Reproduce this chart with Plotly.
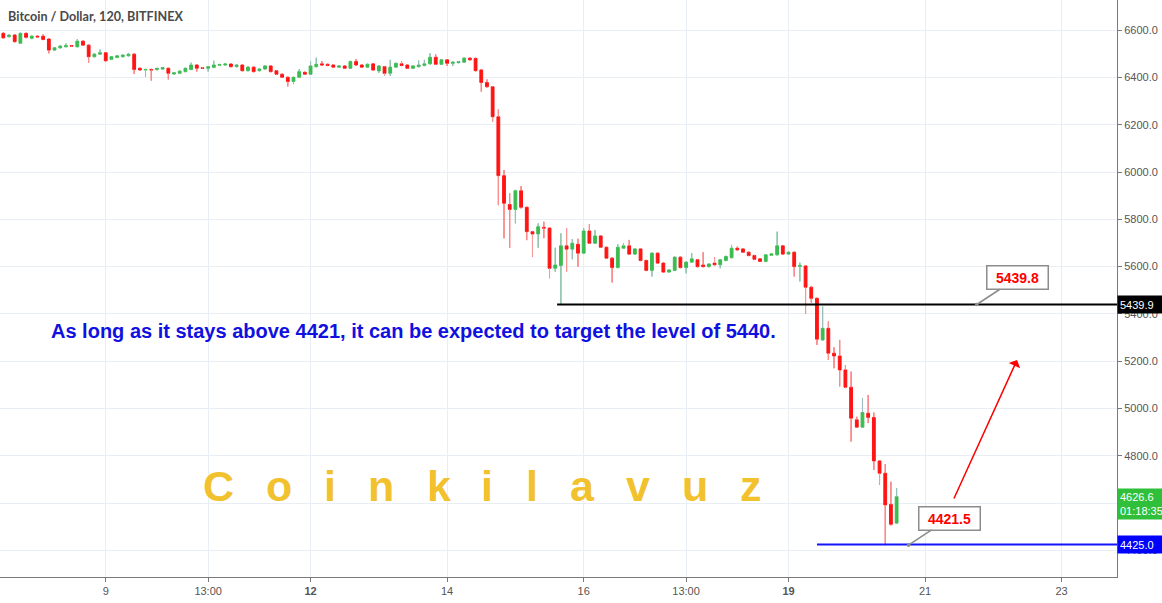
import plotly.graph_objects as go
import pandas as pd

# 2h candles, BTC/USD Bitfinex, Nov 2018
opens = [
    6587, 6573, 6580, 6545, 6587, 6566, 6575, 6575, 6563, 6516,
    6526, 6530, 6535, 6530, 6554, 6537, 6488, 6499, 6505, 6477,
    6485, 6488, 6492, 6499, 6439, 6432, 6434, 6434, 6436, 6439,
    6415, 6418, 6425, 6434, 6453, 6441, 6439, 6443, 6452, 6453,
    6457, 6446, 6453, 6429, 6444, 6429, 6436, 6449, 6429, 6414,
    6401, 6383, 6401, 6422, 6414, 6446, 6458, 6456, 6453, 6444,
    6449, 6439, 6468, 6453, 6444, 6458, 6428, 6446, 6418, 6444,
    6458, 6453, 6439, 6446, 6451, 6458, 6486, 6456, 6475, 6460,
    6463, 6465, 6482, 6481, 6432, 6379, 6361, 6234, 5985, 5863,
    5842, 5921, 5851, 5748, 5738, 5766, 5763, 5593, 5605, 5688,
    5674, 5695, 5657, 5751, 5699, 5730, 5682, 5636, 5596, 5678,
    5688, 5653, 5675, 5626, 5584, 5657, 5615, 5577, 5584, 5640,
    5596, 5619, 5629, 5607, 5600, 5615, 5608, 5626, 5638, 5678,
    5675, 5661, 5647, 5633, 5622, 5648, 5650, 5688, 5653, 5661,
    5601, 5603, 5513, 5466, 5290, 5339, 5234, 5222, 5163, 5090,
    4952, 4921, 4980, 4962, 4778, 4726, 4594, 4515,
]
highs = [
    6592, 6583, 6584, 6590, 6590, 6578, 6578, 6583, 6566, 6528,
    6536, 6544, 6538, 6563, 6558, 6540, 6502, 6519, 6508, 6490,
    6494, 6497, 6504, 6502, 6442, 6437, 6438, 6441, 6445, 6442,
    6423, 6430, 6442, 6463, 6456, 6444, 6449, 6471, 6458, 6460,
    6460, 6456, 6456, 6448, 6447, 6439, 6452, 6452, 6432, 6417,
    6404, 6404, 6436, 6425, 6468, 6484, 6470, 6459, 6456, 6452,
    6452, 6471, 6478, 6456, 6459, 6461, 6452, 6449, 6475, 6463,
    6470, 6456, 6452, 6472, 6475, 6503, 6498, 6478, 6478, 6468,
    6470, 6485, 6485, 6484, 6435, 6392, 6364, 6265, 6009, 5910,
    5925, 5941, 5854, 5751, 5783, 5790, 5766, 5680, 5741, 5763,
    5717, 5718, 5763, 5780, 5755, 5733, 5685, 5639, 5695, 5699,
    5713, 5678, 5678, 5629, 5660, 5660, 5618, 5589, 5643, 5643,
    5622, 5657, 5632, 5661, 5614, 5640, 5632, 5646, 5692, 5685,
    5678, 5664, 5650, 5636, 5653, 5657, 5748, 5691, 5664, 5664,
    5617, 5606, 5516, 5469, 5431, 5368, 5259, 5290, 5184, 5156,
    4965, 5043, 5057, 4983, 4781, 4765, 4690, 4663,
]
lows = [
    6565, 6570, 6548, 6542, 6566, 6562, 6570, 6558, 6502, 6512,
    6522, 6528, 6530, 6528, 6534, 6463, 6485, 6496, 6468, 6474,
    6482, 6485, 6489, 6415, 6428, 6403, 6387, 6430, 6433, 6392,
    6412, 6415, 6422, 6431, 6425, 6436, 6425, 6440, 6449, 6450,
    6443, 6443, 6426, 6426, 6422, 6426, 6433, 6422, 6411, 6398,
    6362, 6372, 6398, 6411, 6411, 6443, 6450, 6448, 6441, 6441,
    6436, 6436, 6450, 6441, 6441, 6429, 6420, 6407, 6407, 6441,
    6448, 6436, 6436, 6443, 6448, 6455, 6453, 6453, 6449, 6449,
    6460, 6462, 6472, 6426, 6340, 6358, 6213, 5860, 5720, 5680,
    5783, 5846, 5712, 5642, 5680, 5720, 5551, 5578, 5439.8, 5579,
    5631, 5600, 5654, 5696, 5696, 5679, 5633, 5533, 5593, 5675,
    5650, 5650, 5623, 5581, 5558, 5612, 5574, 5574, 5581, 5593,
    5572, 5616, 5597, 5597, 5597, 5605, 5593, 5623, 5635, 5668,
    5658, 5644, 5628, 5619, 5619, 5645, 5647, 5650, 5650, 5558,
    5537, 5400, 5448, 5269, 5287, 5205, 5170, 5093, 5086, 4860,
    4918, 4918, 4938, 4740, 4677, 4421.5, 4505, 4512,
]
closes = [
    6568, 6579, 6552, 6587, 6570, 6575, 6572, 6561, 6516, 6526,
    6533, 6535, 6533, 6554, 6537, 6488, 6499, 6505, 6471, 6488,
    6492, 6495, 6499, 6434, 6432, 6434, 6432, 6439, 6442, 6418,
    6420, 6427, 6439, 6453, 6439, 6439, 6446, 6453, 6455, 6457,
    6446, 6453, 6429, 6444, 6425, 6436, 6449, 6425, 6414, 6401,
    6383, 6401, 6425, 6414, 6449, 6456, 6453, 6451, 6444, 6449,
    6439, 6468, 6453, 6444, 6456, 6432, 6449, 6418, 6444, 6460,
    6451, 6439, 6449, 6453, 6458, 6486, 6456, 6475, 6460, 6465,
    6467, 6482, 6475, 6429, 6379, 6361, 6234, 5985, 5868, 5842,
    5921, 5851, 5748, 5738, 5769, 5763, 5593, 5607, 5688, 5674,
    5699, 5657, 5751, 5699, 5730, 5682, 5636, 5596, 5682, 5688,
    5653, 5675, 5626, 5584, 5657, 5615, 5577, 5586, 5640, 5596,
    5619, 5633, 5600, 5600, 5611, 5608, 5629, 5643, 5678, 5671,
    5661, 5647, 5631, 5622, 5650, 5654, 5688, 5653, 5661, 5600,
    5605, 5513, 5466, 5293, 5339, 5234, 5222, 5163, 5090, 4959,
    4921, 4983, 4962, 4778, 4726, 4592, 4510, 4626.6,
]
times = pd.date_range("2018-11-07 12:00", periods=len(closes), freq="2h")

tick_vals = ["2018-11-09", "2018-11-10 12:00", "2018-11-12", "2018-11-14", "2018-11-16",
             "2018-11-17 12:00", "2018-11-19", "2018-11-21", "2018-11-23"]
tick_text = ["9", "13:00", "<b>12</b>", "14", "16", "13:00", "<b>19</b>", "21", "23"]
price_ticks = [4400, 4600, 4800, 5000, 5200, 5400, 5600, 5800, 6000, 6200, 6400, 6600]

target_level = 5439.8
support_level = 4425.0
support_low = 4421.5
last_price = 4626.6
countdown = "01:18:35"

X_RANGE = ["2018-11-07 10:50", "2018-11-23 19:28"]
UP = "#3cbc50"
DOWN = "#ff1414"
UP_WICK = "#9fbfc6"
DOWN_WICK = "#f5a0a0"
GRID = "#e9eef4"
AXIS = "#7a7a7a"
FONT = "Liberation Sans, Arial, sans-serif"

fig = go.Figure()

fig.add_trace(go.Candlestick(
    x=times, open=opens, high=highs, low=lows, close=closes,
    increasing=dict(line=dict(color=UP, width=1), fillcolor=UP),
    decreasing=dict(line=dict(color=DOWN, width=1), fillcolor=DOWN),
    whiskerwidth=0,
    showlegend=False,
))


# lighter wicks on top, like the TradingView look
def wick_segments(rising):
    xs, ys = [], []
    for t, o, h, l, c in zip(times, opens, highs, lows, closes):
        if (c >= o) != rising:
            continue
        top, bot = max(o, c), min(o, c)
        if h > top:
            xs += [t, t, None]
            ys += [h, top, None]
        if l < bot:
            xs += [t, t, None]
            ys += [bot, l, None]
    return xs, ys


for rising, col in [(True, UP_WICK), (False, DOWN_WICK)]:
    wx, wy = wick_segments(rising)
    fig.add_trace(go.Scatter(x=wx, y=wy, mode="lines", line=dict(color=col, width=1),
                             hoverinfo="skip", showlegend=False))

# horizontal levels
fig.add_shape(type="line", xref="x", yref="y", x0="2018-11-15 14:40", x1=X_RANGE[1],
              y0=target_level, y1=target_level, line=dict(color="black", width=2))
fig.add_shape(type="line", xref="x", yref="y", x0="2018-11-19 10:00", x1=X_RANGE[1],
              y0=support_level, y1=support_level, line=dict(color="#1414ff", width=2))

# callouts
for lvl, pt_time in [(target_level, "2018-11-21 18:10"), (support_low, "2018-11-20 18:10")]:
    fig.add_annotation(
        x=pt_time, y=lvl, xref="x", yref="y", text=f"<b>{lvl:.1f}</b>",
        font=dict(family=FONT, size=14, color="#ff0000"),
        showarrow=True, arrowhead=6, arrowsize=0.6, arrowwidth=1.5, arrowcolor="#8c8c8c",
        ax=41, ay=-27, bgcolor="white", bordercolor="#8c8c8c", borderwidth=1.5,
        borderpad=1, width=58, height=20,
    )

# red projection arrow
fig.add_annotation(
    x="2018-11-22 08:20", y=5205, ax="2018-11-21 09:55", ay=4613,
    xref="x", yref="y", axref="x", ayref="y", text="",
    showarrow=True, arrowhead=1, arrowsize=1.4, arrowwidth=1.5, arrowcolor="#ff0000",
)

# chart header
fig.add_annotation(
    x=0.0, y=0.972, xref="paper", yref="paper", xanchor="left", yanchor="middle", xshift=6,
    text="Bitcoin / Dollar, 120, BITFINEX", showarrow=False,
    font=dict(family="Lato, sans-serif", size=12.6, color="#4a4a4a", weight="bold"),
)

# commentary
fig.add_annotation(
    x=413 / 1117, y=1 - 331 / 577, xref="paper", yref="paper",
    xanchor="center", yanchor="middle",
    text="As long as it stays above 4421, it can be expected to target the level of 5440.",
    showarrow=False, font=dict(family=FONT, size=20, color="#1010e0", weight="bold"),
)

# watermark, one letter per slot as spaced on the chart
brand = "Coinkilavuz"
brand_px = [218, 279, 330, 381, 439, 487, 532, 582, 638, 695, 751]
for ch, px in zip(brand, brand_px):
    fig.add_annotation(
        x=px / 1117, y=1 - 486 / 577, xref="paper", yref="paper",
        xanchor="center", yanchor="middle", text=ch, showarrow=False,
        font=dict(family=FONT, size=43, color="#f2c12e", weight="bold"),
    )

# price tags on the axis
for lvl, txt, bg in [(target_level, "5439.9", "black"), (support_level, "4425.0", "#0000ff")]:
    fig.add_annotation(
        x=1, y=lvl, xref="paper", yref="y", xanchor="left", yanchor="middle",
        text=txt, showarrow=False, bgcolor=bg, borderpad=2, width=48, height=13,
        align="left", font=dict(family=FONT, size=11, color="white"),
    )
fig.add_annotation(
    x=1, y=last_price, xref="paper", yref="y", xanchor="left", yanchor="top", yshift=9,
    text=f"{last_price:.1f}<br>{countdown}", showarrow=False, bgcolor="#2fbf3a",
    borderpad=2, width=48, align="left",
    font=dict(family=FONT, size=11, color="white"),
)

fig.update_layout(
    width=1162, height=603,
    margin=dict(l=0, r=45, t=0, b=26),
    paper_bgcolor="white", plot_bgcolor="white",
    showlegend=False,
    xaxis=dict(
        type="date", range=X_RANGE, rangeslider=dict(visible=False),
        tickmode="array", tickvals=tick_vals, ticktext=tick_text,
        showgrid=True, gridcolor=GRID, zeroline=False,
        showline=True, linecolor=AXIS, linewidth=1,
        ticks="outside", ticklen=4, tickcolor=AXIS,
        tickfont=dict(family=FONT, size=11, color="#555555"),
    ),
    yaxis=dict(
        side="right", range=[4287, 6728],
        tickmode="array", tickvals=price_ticks, tickformat=".1f",
        showgrid=True, gridcolor=GRID, zeroline=False,
        showline=True, linecolor=AXIS, linewidth=1,
        ticks="outside", ticklen=4, tickcolor=AXIS,
        tickfont=dict(family=FONT, size=11, color="#555555"),
    ),
)

# page body margin would shift the fixed-size chart, so drop it
fig.write_html("out.html", config={"displayModeBar": False},
               post_script="document.body.style.margin='0px';")
